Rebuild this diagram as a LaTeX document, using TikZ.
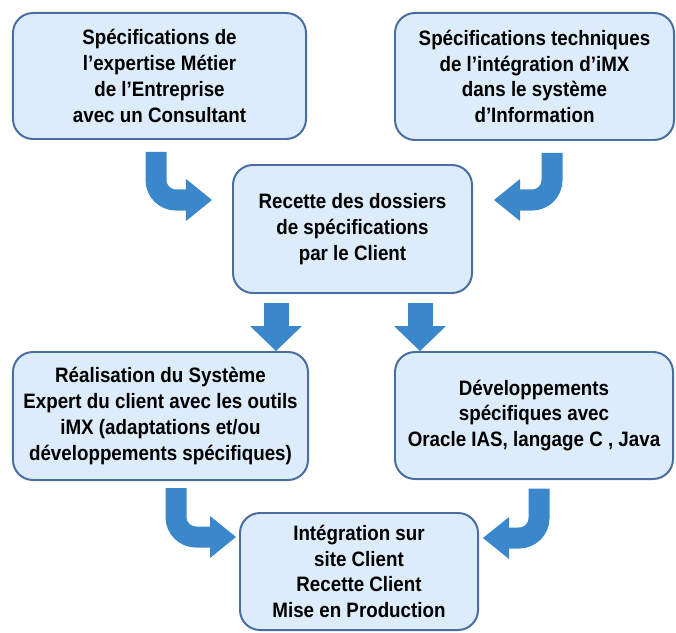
\documentclass[tikz,border=0pt]{standalone}
\usepackage{fontspec}
\setmainfont{Liberation Sans}[FakeStretch=0.9]
\usepackage{tikz}
\usetikzlibrary{arrows.meta,calc}
\definecolor{boxfill}{RGB}{221,236,250}
\definecolor{boxline}{RGB}{74,110,160}
\definecolor{arrowblue}{RGB}{58,135,204}
\tikzset{
	etape/.style={draw=boxline,fill=boxfill,line width=1.7pt,rounded corners=0.6cm,align=center,inner sep=0pt,font=\fontsize{17.8}{22}\selectfont\bfseries},
	fleche/.style={draw=arrowblue,line width=0.75cm,-{Triangle[width=1.56cm,length=0.75cm,line width=0pt]}},
	crochet/.style={draw=arrowblue,line width=0.63cm,rounded corners=0.6cm,-{Triangle[width=1.26cm,length=0.78cm,line width=0pt]}}
}
\begin{document}
\begin{tikzpicture}[x=0.03cm,y=0.03cm]
			\useasboundingbox (0,0) rectangle (676,632);
			\node[etape,minimum width=8.79cm,minimum height=3.78cm] (spec) at (159.5,556) {Spécifications de\\l’expertise Métier\\de l’Entreprise\\avec un Consultant};
			\node[etape,minimum width=8.37cm,minimum height=3.81cm] (tech) at (534.5,555.5) {Spécifications techniques\\de l’intégration d’iMX\\dans le système\\d’Information};
			\node[etape,minimum width=7.17cm,minimum height=3.84cm] (recette) at (352.5,403) {Recette des dossiers\\de spécifications\\par le Client};
			\node[etape,minimum width=8.85cm,minimum height=3.84cm] (real) at (160.5,216) {Réalisation du Système\\Expert du client avec les outils\\iMX (adaptations et/ou\\développements spécifiques)};
			\node[etape,minimum width=8.34cm,minimum height=3.81cm] (dev) at (534,216.5) {Développements\\spécifiques avec\\Oracle IAS, langage C , Java};
			\node[etape,minimum width=7.14cm,minimum height=3.51cm] (integ) at (359,60.5) {Intégration sur\\site Client\\Recette Client\\Mise en Production};
			\coordinate (a1) at ($(spec.south)+(-3.5,-12)$);
			\coordinate (a2) at ($(tech.south)+(17.5,-12)$);
			\coordinate (b1) at ($(recette.south)+(-76.5,-9)$);
			\coordinate (b2) at ($(recette.south)+(67.5,-9)$);
			\coordinate (c1) at ($(real.south)+(15.5,-7)$);
			\coordinate (c2) at ($(dev.south)+(5,-8.5)$);
			\draw[crochet,shorten >=0.6cm] (a1) |- ($(recette.west)+(0,29)$);
			\draw[crochet,shorten >=0.63cm] (a2) |- ($(recette.east)+(0,29)$);
			\draw[fleche] (b1) -- (b1 |- real.north);
			\draw[fleche] (b2) -- (b2 |- dev.north);
			\draw[crochet,shorten >=0.09cm] (c1) |- ($(integ.west)+(0,34.5)$);
			\draw[crochet,shorten >=0.12cm] (c2) |- ($(integ.east)+(0,33.5)$);
		\end{tikzpicture}
\end{document}
